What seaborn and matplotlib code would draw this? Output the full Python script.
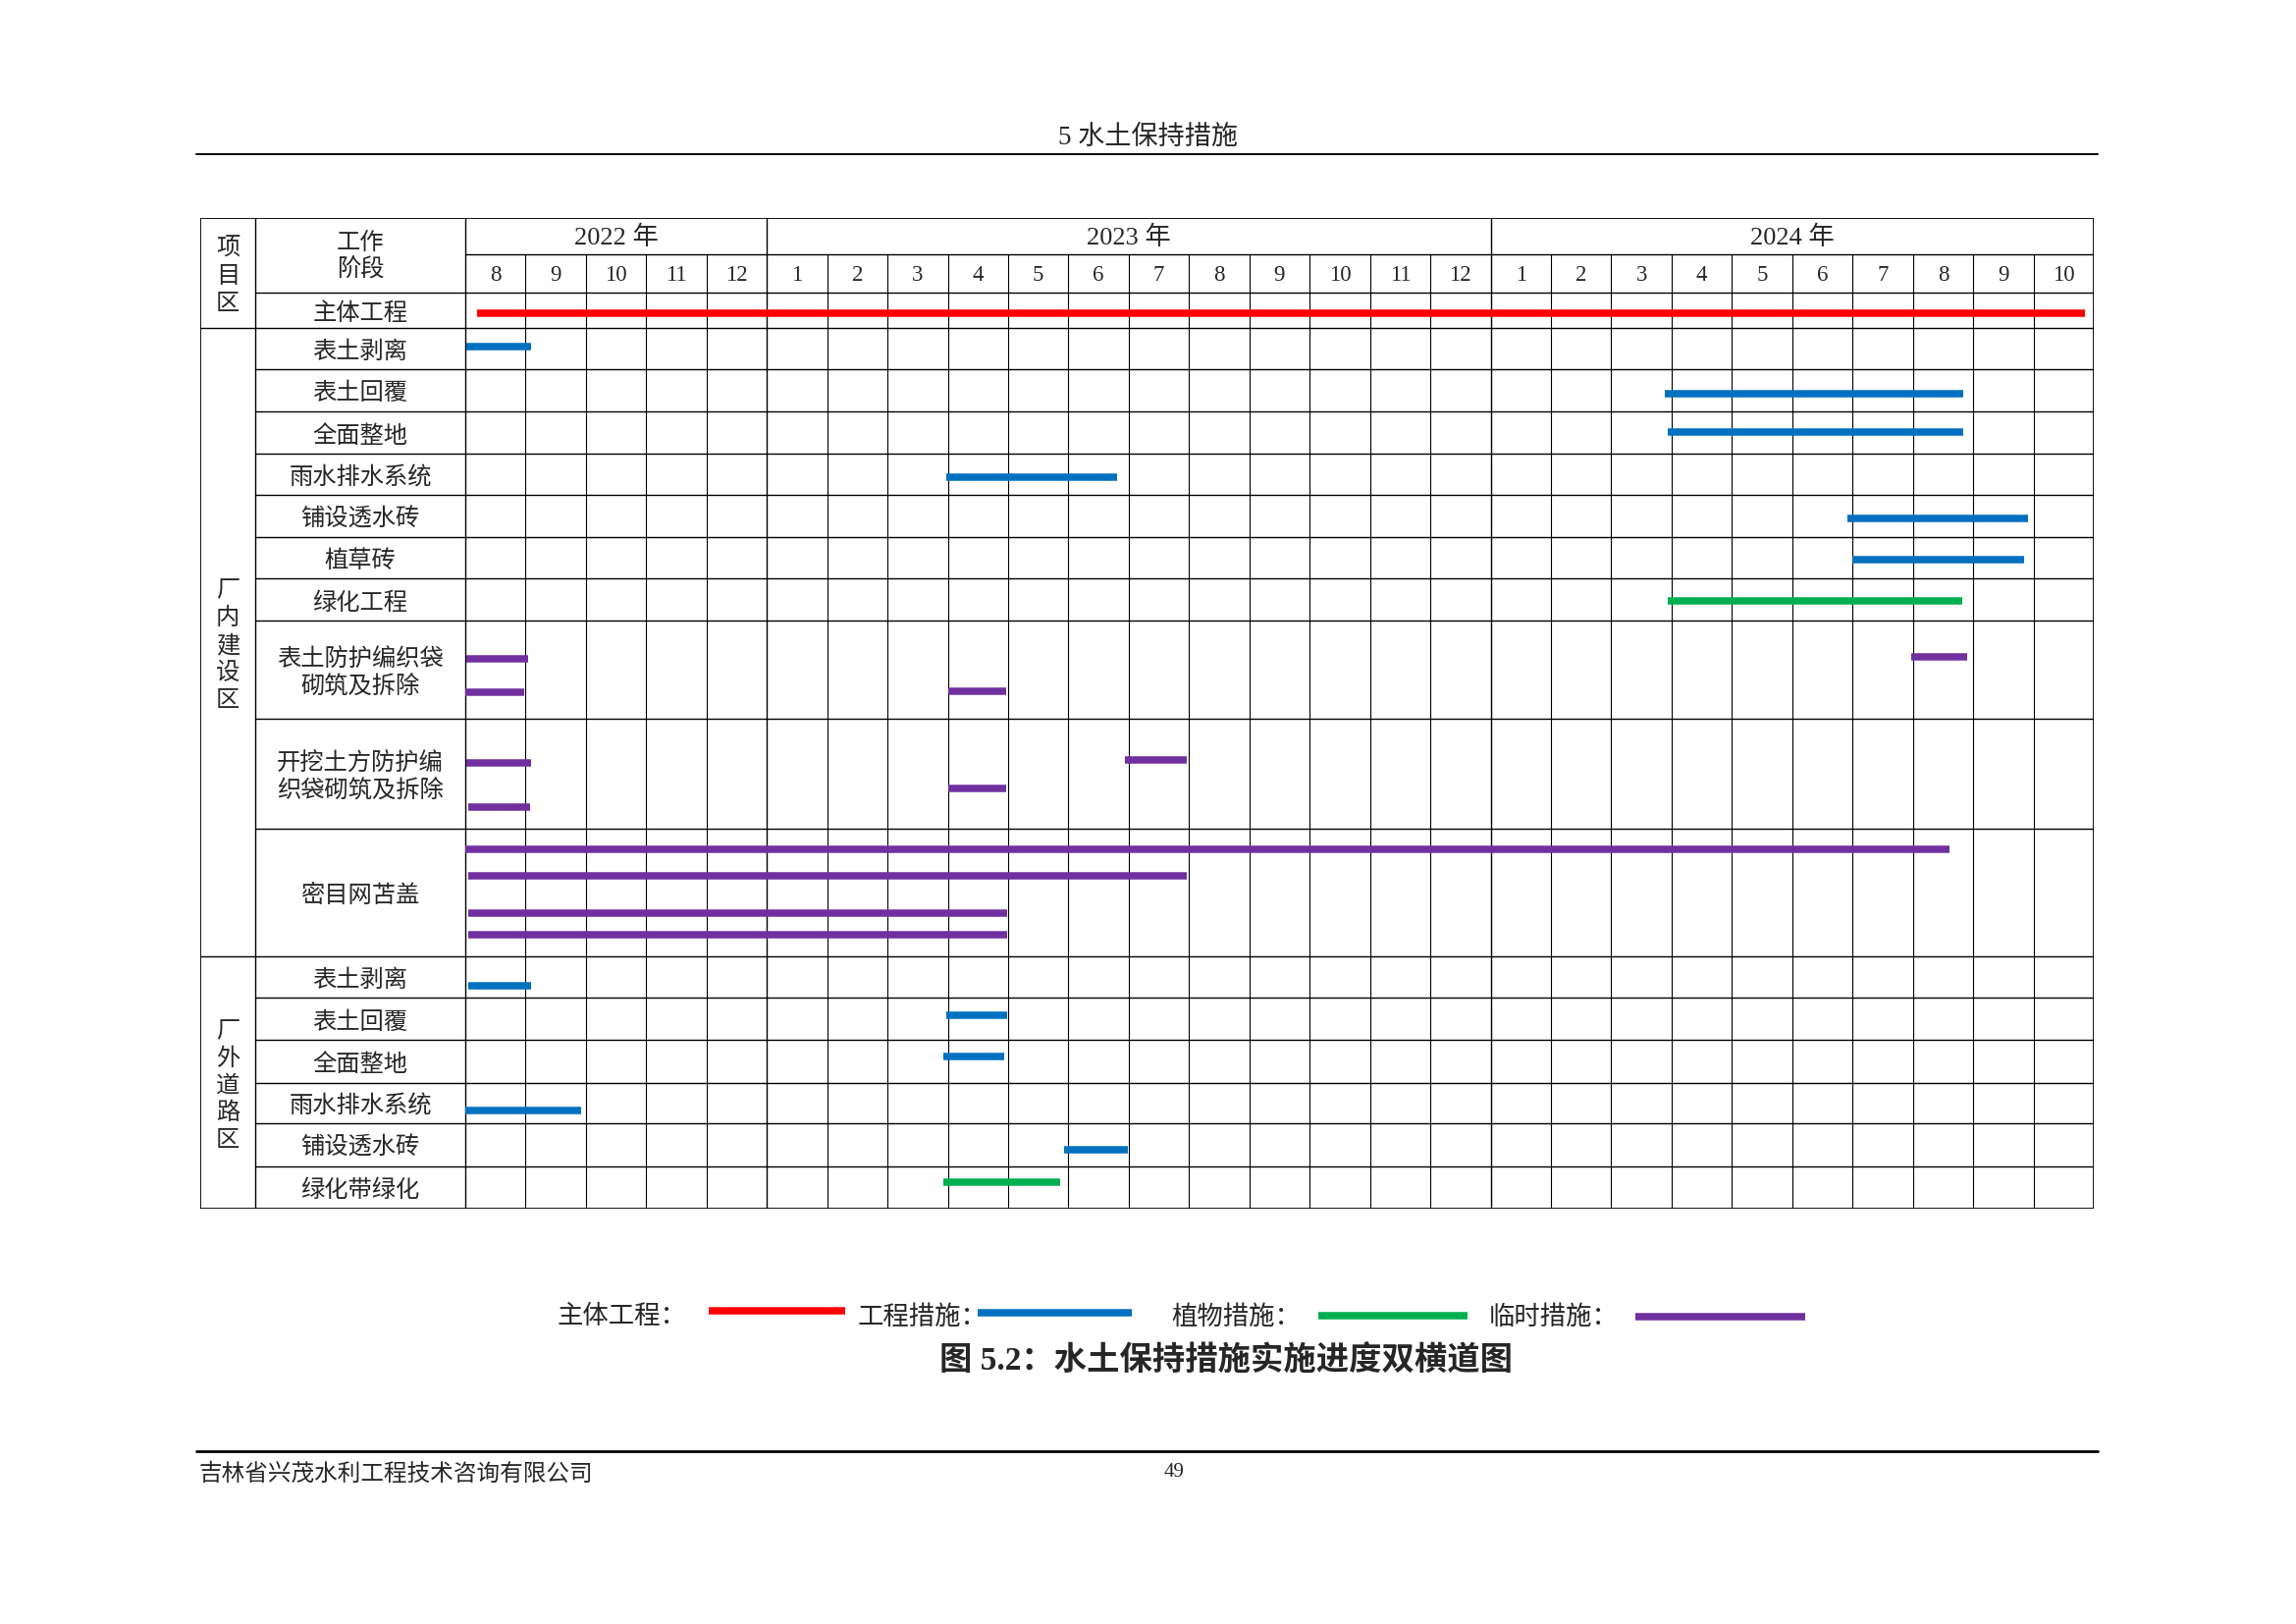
import matplotlib
matplotlib.use("Agg")
import matplotlib.pyplot as plt
import seaborn as sns
import pandas as pd
import numpy as np
from matplotlib.lines import Line2D

# ------------------------------------------------------------------ data
header_title = "5 水土保持措施"
caption = "图 5.2：水土保持措施实施进度双横道图"
footer_left = "吉林省兴茂水利工程技术咨询有限公司"
page_no = "49"

years = ["2022 年", "2023 年", "2024 年"]
year_month_counts = [5, 12, 10]
month_labels = [8, 9, 10, 11, 12,
                1, 2, 3, 4, 5, 6, 7, 8, 9, 10, 11, 12,
                1, 2, 3, 4, 5, 6, 7, 8, 9, 10]

col1_header = "项目区"
col2_header = ["工作", "阶段"]
main_label = "主体工程"
zone_names = ["厂内建设区", "厂外道路区"]
inner_tasks = ["表土剥离", "表土回覆", "全面整地", "雨水排水系统", "铺设透水砖",
               "植草砖", "绿化工程", "表土防护编织袋\n砌筑及拆除",
               "开挖土方防护编\n织袋砌筑及拆除", "密目网苫盖"]
outer_tasks = ["表土剥离", "表土回覆", "全面整地", "雨水排水系统", "铺设透水砖", "绿化带绿化"]

kinds = ["主体工程", "工程措施", "植物措施", "临时措施"]
kind_colors = ["#FF0000", "#0070C0", "#00B050", "#7030A0"]

# bars: table row (0 = 主体工程, 1-10 厂内, 11-16 厂外), start/end in months since Aug 2022,
# kind, and vertical lane inside the row (0 = top, 1 = bottom)
bar_rows = [0, 1, 2, 3, 4, 5, 6, 7,
            8, 8, 8, 8, 9, 9, 9, 9, 10, 10, 10, 10,
            11, 12, 13, 14, 15, 16]
bar_starts = [0.19, 0.02, 19.89, 19.94, 7.97, 22.92, 23.0, 19.94,
              0.02, 0.0, 8.0, 23.97, 0.02, 0.05, 8.0, 10.93, 0.0, 0.05, 0.05, 0.05,
              0.05, 7.97, 7.92, 0.0, 9.93, 7.92]
bar_ends = [26.86, 1.09, 24.84, 24.84, 10.81, 25.91, 25.84, 24.82,
            1.04, 0.97, 8.96, 24.9, 1.09, 1.07, 8.96, 11.97, 24.6, 11.97, 8.98, 8.98,
            1.09, 8.98, 8.94, 1.92, 10.98, 9.86]
bar_kinds = (["主体工程"] + ["工程措施"] * 6 + ["植物措施"] + ["临时措施"] * 12
             + ["工程措施"] * 5 + ["植物措施"])
bar_lanes = [0.58, 0.46, 0.59, 0.48, 0.57, 0.55, 0.54, 0.52,
             0.39, 0.73, 0.72, 0.37, 0.40, 0.80, 0.63, 0.37, 0.16, 0.37, 0.66, 0.83,
             0.71, 0.41, 0.38, 0.68, 0.62, 0.38]

# ------------------------------------------------------------------ layout
W, H = 2339, 1654
sns.set_theme(style="white")
plt.rcParams["font.family"] = ["Noto Sans CJK SC", "DejaVu Sans"]
SERIF = ["Liberation Serif", "Noto Sans CJK SC"]

fig = plt.figure(figsize=(W / 100, H / 100), dpi=100)
fig.patch.set_facecolor("white")


def fx(x):
    return x / W


def fy(y):
    return 1 - y / H


tab_l, tab_r, tab_t, tab_b = 204, 2133, 222, 1231
ax = fig.add_axes([fx(tab_l), fy(tab_b), (tab_r - tab_l) / W, (tab_b - tab_t) / H])
ax.set_facecolor("white")

n_months = len(month_labels)
month_px = (tab_r - 474) / n_months
col2_w = 214 / month_px
col1_w = 56 / month_px
x0 = -(col1_w + col2_w)
xc = -col2_w

header_h = [25, 26]
body_h = [24, 28, 29, 29, 28, 29, 28, 29, 67, 75, 87, 28, 29, 29, 28, 29, 29]
y_body0 = sum(header_h)
body_tops = y_body0 + np.concatenate([[0], np.cumsum(body_h)[:-1]])
y_end = y_body0 + sum(body_h)

# ------------------------------------------------------------------ bars via seaborn
recs = []
for i, (r, s, e, k, ln) in enumerate(zip(bar_rows, bar_starts, bar_ends, bar_kinds, bar_lanes)):
    yy = body_tops[r] + ln * body_h[r]
    recs.append({"bar": i, "x": s, "y": yy, "kind": k})
    recs.append({"bar": i, "x": e, "y": yy, "kind": k})
df = pd.DataFrame(recs)
palette = dict(zip(kinds, kind_colors))
sns.lineplot(data=df, x="x", y="y", hue="kind", units="bar", estimator=None, sort=False,
             palette=palette, hue_order=kinds, linewidth=5.4, legend=False, ax=ax,
             solid_capstyle="butt", zorder=4)

# ------------------------------------------------------------------ grid
LW = 1.0
LC = "black"
ax.plot([x0, n_months, n_months, x0, x0], [0, 0, y_end, y_end, 0], color=LC, lw=1.3, zorder=2,
        solid_joinstyle="miter")
ax.vlines([xc, 0], 0, y_end, color=LC, lw=LW, zorder=2)
year_bounds = np.cumsum(year_month_counts)[:-1]
ax.vlines(year_bounds, 0, y_end, color=LC, lw=LW, zorder=2)
other = [m for m in range(1, n_months) if m not in set(year_bounds)]
ax.vlines(other, header_h[0], y_end, color=LC, lw=0.8, zorder=2)
ax.hlines(header_h[0], 0, n_months, color=LC, lw=LW, zorder=2)
ax.hlines(y_body0, xc, n_months, color=LC, lw=LW, zorder=2)
zone_split = 1 + len(inner_tasks)
for r in range(1, len(body_h)):
    yb = body_tops[r]
    full = (r == 1) or (r == zone_split)
    ax.hlines(yb, x0 if full else xc, n_months, color=LC, lw=LW, zorder=2)

ax.set_xlim(x0, n_months)
ax.set_ylim(y_end, 0)
ax.set_axis_off()

# ------------------------------------------------------------------ table text
FS = 17.5
DY = 2.0      # CJK text baseline nudge
start = 0
for yl, cnt in zip(years, year_month_counts):
    ax.text(start + cnt / 2, header_h[0] / 2 + 1.0, yl, ha="center", va="center",
            fontsize=19, family=SERIF)
    start += cnt
for i, m in enumerate(month_labels):
    ax.text(i + 0.5, header_h[0] + header_h[1] / 2 + 1.3, str(m), ha="center", va="center",
            fontsize=16.5, family=SERIF)

c1 = x0 + col1_w / 2
c2 = xc + col2_w / 2
PITCH = 18.6


def vtext(cx, cy, s):
    n = len(s)
    for j, ch in enumerate(s):
        ax.text(cx, cy + DY + (j - (n - 1) / 2) * PITCH, ch, ha="center", va="center",
                fontsize=FS)


def mtext(cx, cy, s):
    lines = s.split("\n")
    n = len(lines)
    for j, ln in enumerate(lines):
        ax.text(cx, cy + DY + (j - (n - 1) / 2) * PITCH, ln, ha="center", va="center",
                fontsize=FS)


vtext(c1, (y_body0 + body_h[0]) / 2, col1_header)
mtext(c2, y_body0 / 2 - 1.5, "\n".join(col2_header))
mtext(c2, body_tops[0] + body_h[0] / 2, main_label)
for i, t in enumerate(inner_tasks):
    r = 1 + i
    mtext(c2, body_tops[r] + body_h[r] / 2, t)
for i, t in enumerate(outer_tasks):
    r = zone_split + i
    mtext(c2, body_tops[r] + body_h[r] / 2, t)
vtext(c1, (body_tops[1] + body_tops[zone_split]) / 2, zone_names[0])
vtext(c1, (body_tops[zone_split] + y_end) / 2, zone_names[1])

# ------------------------------------------------------------------ page header / footer
fig.text(fx(1170), fy(140), header_title, ha="center", va="center", fontsize=19.5,
         family=["Liberation Serif", "Noto Sans CJK SC"])
fig.add_artist(Line2D([fx(200), fx(2137)], [fy(157), fy(157)], color="black", lw=1.4))
fig.add_artist(Line2D([fx(200), fx(2137)], [fy(1478), fy(1478)], color="black", lw=2.0))
fig.text(fx(202), fy(1501), footer_left, ha="left", va="center", fontsize=17)
fig.text(fx(1196), fy(1500), page_no, ha="center", va="center", fontsize=15,
         family=["Liberation Serif"])

# ------------------------------------------------------------------ legend
leg_text_x = [568, 874, 1193, 1517]
leg_line_x = [(722, 861), (996, 1153), (1343, 1495), (1666, 1839)]
leg_line_y = [1335, 1337, 1340, 1341]
for k, c, tx, (l0, l1), ly in zip(kinds, kind_colors, leg_text_x, leg_line_x, leg_line_y):
    fig.text(fx(tx), fy(1341), k + "：", ha="left", va="center", fontsize=19)
    fig.add_artist(Line2D([fx(l0), fx(l1)], [fy(ly), fy(ly)], color=c, lw=5.4,
                          solid_capstyle="butt"))

fig.text(fx(1249), fy(1387), caption, ha="center", va="center", fontsize=24,
         fontweight="bold", family=["Liberation Serif", "Noto Sans CJK SC"])

fig.savefig("out.png", dpi=100, facecolor="white")
